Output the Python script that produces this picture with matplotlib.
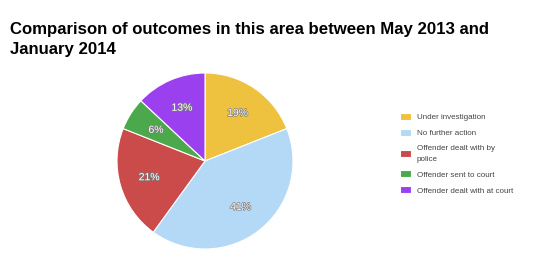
import matplotlib.pyplot as plt
import matplotlib.patheffects as pe

labels = ["Under investigation", "No further action", "Offender dealt with by\npolice",
          "Offender sent to court", "Offender dealt with at court"]
values = [19, 41, 21, 6, 13]
colors = ["#EEC13F", "#B3D9F7", "#CB4B4B", "#4CA94B", "#9A40EF"]

W, H = 540, 263
fig = plt.figure(figsize=(W / 100, H / 100), dpi=100)
plt.rcParams['font.family'] = ['Liberation Sans', 'DejaVu Sans']

fig.text(10 / W, 1 - 22 / H, "Comparison of outcomes in this area between May 2013 and\nJanuary 2014",
         fontsize=12.1, fontweight='bold', va='top', ha='left', linespacing=1.4)

cx, cy, r = 205, 161, 88
ax = fig.add_axes([(cx - r) / W, (H - cy - r) / H, 2 * r / W, 2 * r / H])
wedges, texts, autotexts = ax.pie(values, colors=colors, startangle=90, counterclock=False,
                                  autopct='%d%%', pctdistance=0.66,
                                  wedgeprops=dict(edgecolor='white', linewidth=0.8),
                                  textprops=dict(color='white', fontsize=7.5))
for t in autotexts:
    t.set_path_effects([pe.withStroke(linewidth=1.0, foreground='#7d7d7d')])
ax.set_xlim(-1, 1)
ax.set_ylim(-1, 1)
ax.set_aspect('equal')

leg = fig.legend(wedges, labels, loc='upper left', bbox_to_anchor=(400 / W, 1 - 113 / H),
                 frameon=False, fontsize=5.8, handlelength=1.35, handleheight=0.9,
                 handletextpad=0.75, labelspacing=0.98, borderaxespad=0, borderpad=0)
for t in leg.get_texts():
    t.set_color('#444444')
    t.set_linespacing(1.7)

fig.savefig("out.png", dpi=100)
